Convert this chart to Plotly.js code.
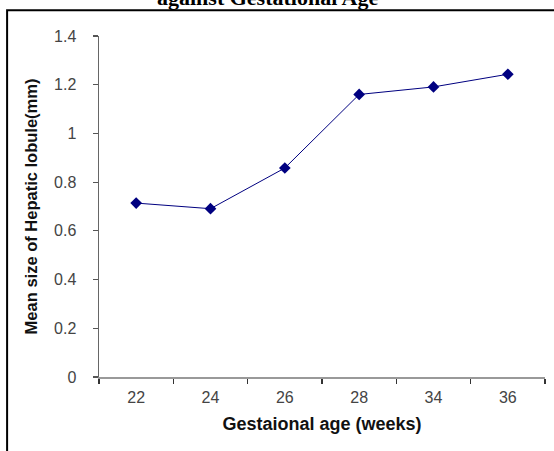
<!DOCTYPE html>
<html>
<head>
<meta charset="utf-8">
<script src="https://cdn.plot.ly/plotly-3.0.1.min.js"></script>
<style>html,body{margin:0;padding:0;background:#fff;}#chart{width:554px;height:451px;}</style>
</head>
<body>
<div id="chart"></div>
<script>
const categories = ["22", "24", "26", "28", "34", "36"];
const meanSize = [0.714, 0.691, 0.858, 1.160, 1.191, 1.243];
const yTicks = [0, 0.2, 0.4, 0.6, 0.8, 1, 1.2, 1.4];
const yTickLabels = ["0", "0.2", "0.4", "0.6", "0.8", "1", "1.2", "1.4"];

const L = 99, R = 8.5, T = 35.7, B = 74.3, W = 554, H = 451;
const pw = W - L - R, ph = H - T - B;
const px = x => (x - L) / pw;
const py = y => 1 - (y - T) / ph;

const trace = {
  x: categories,
  y: meanSize,
  type: "scatter",
  mode: "lines+markers",
  line: {color: "#000080", width: 1},
  marker: {symbol: "diamond", size: 9, color: "#000080"},
  cliponaxis: false
};

const layout = {
  width: W, height: H,
  margin: {l: L, r: R, t: T, b: B, pad: 0},
  paper_bgcolor: "#fff", plot_bgcolor: "#fff",
  showlegend: false,
  font: {family: "Liberation Sans, Arial, sans-serif", color: "#333"},
  xaxis: {
    type: "category",
    range: [-0.5, 5.5],
    showgrid: false, zeroline: false,
    showline: true, linecolor: "#999", linewidth: 1.5,
    ticks: "outside", tickson: "boundaries", ticklen: 5, tickcolor: "#333", tickwidth: 1.2,
    tickfont: {size: 16, color: "#444"},
    ticklabelstandoff: 5,
    title: {text: "Gestaional age (weeks)", font: {size: 18, color: "#111", family: "Liberation Sans, Arial, sans-serif", weight: "bold"}, standoff: 12}
  },
  yaxis: {
    range: [0, 1.4],
    tickvals: yTicks, ticktext: yTickLabels,
    showgrid: false, zeroline: false,
    showline: true, linecolor: "#666", linewidth: 1.5,
    ticks: "outside", ticklen: 5, tickcolor: "#555", tickwidth: 1.2,
    tickfont: {size: 16, color: "#444"},
    ticklabelstandoff: 13,
    title: {text: "Mean size of Hepatic lobule(mm)", font: {size: 16.5, color: "#111", family: "Liberation Sans, Arial, sans-serif", weight: "bold"}, standoff: 12}
  },
  shapes: [{
    type: "path", xref: "paper", yref: "paper",
    path: `M ${px(7)} ${py(470)} L ${px(7)} ${py(10)} L ${px(570)} ${py(10)}`,
    line: {color: "#000", width: 2}
  }],
  annotations: [{
    text: "against Gestational Age",
    xref: "paper", yref: "paper",
    x: px(268), y: py(12), xanchor: "center", yanchor: "bottom",
    showarrow: false,
    font: {family: "Liberation Serif, Times New Roman, serif", size: 22, color: "#000", weight: "bold"}
  }]
};

Plotly.newPlot("chart", [trace], layout, {displayModeBar: false, staticPlot: true});
</script>
</body>
</html>
